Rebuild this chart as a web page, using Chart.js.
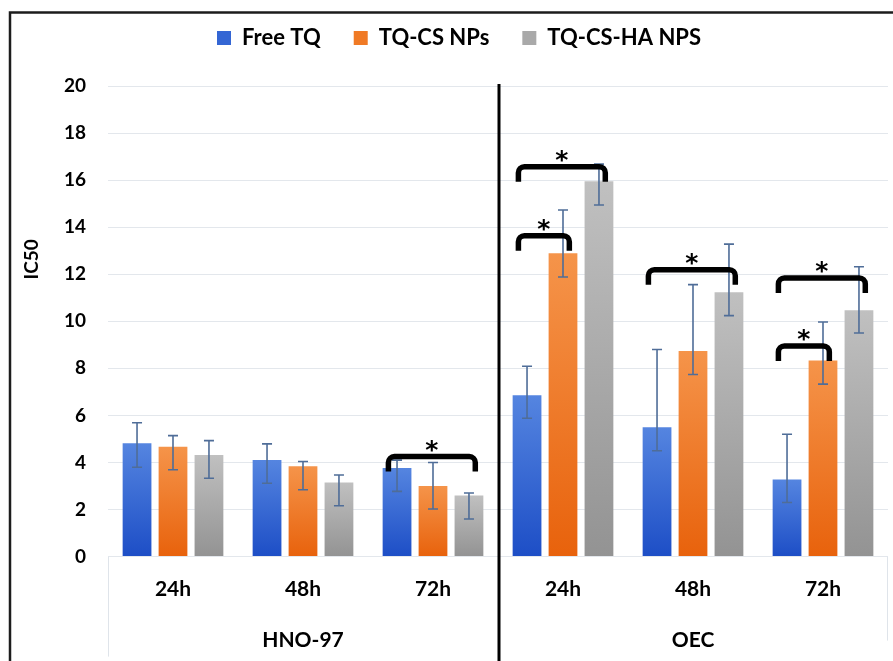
<!DOCTYPE html>
<html>
<head>
<meta charset="utf-8">
<script src="https://cdn.jsdelivr.net/npm/chart.js@4.4.0/dist/chart.umd.min.js"></script>
<style>
  html, body { margin: 0; padding: 0; background: #fff; }
  #wrap { width: 893px; height: 661px; }
</style>
</head>
<body>
<div id="wrap"><canvas id="myChart"></canvas></div>
<script>
// x categories (two cell lines, three time points each)
const categories = ['24h', '48h', '72h', '24h', '48h', '72h'];
const groups = ['HNO-97', 'OEC'];
const seriesNames = ['Free TQ', 'TQ-CS NPs', 'TQ-CS-HA NPS'];

// IC50 values
const freeTQ = [4.82, 4.11, 3.77, 6.86, 5.50, 3.28];
const tqCS   = [4.67, 3.84, 3.00, 12.89, 8.74, 8.33];
const tqCSHA = [4.32, 3.15, 2.60, 15.95, 11.23, 10.47];

// error bar reach above / below each bar
const freeTQErrUp   = [0.87, 0.68, 0.33, 1.23, 3.30, 1.92];
const freeTQErrDown = [1.02, 0.99, 1.00, 0.98, 1.00, 0.98];
const tqCSErrUp     = [0.47, 0.20, 1.00, 1.84, 2.82, 1.64];
const tqCSErrDown   = [0.98, 1.00, 0.98, 1.01, 1.00, 1.00];
const tqCSHAErrUp   = [0.61, 0.32, 0.10, 0.73, 2.05, 1.85];
const tqCSHAErrDown = [0.99, 0.99, 1.00, 1.01, 0.99, 0.97];

const yTicks = [0, 2, 4, 6, 8, 10, 12, 14, 16, 18, 20];

// significance brackets: category, first series, last series, height (IC50 units)
const sigCategory = [2, 3, 3, 4, 5, 5];
const sigFrom     = [0, 0, 0, 0, 0, 0];
const sigTo       = [2, 1, 2, 2, 2, 1];
const sigLevel    = [4.25, 13.64, 16.57, 12.19, 11.84, 8.95];

const FONT = 'Lato';
const COLORS = [
  { top: '#5585e0', bottom: '#1d4ec6', legend: '#3466d4' },
  { top: '#f5944a', bottom: '#e8620c', legend: '#f07a25' },
  { top: '#c0c0c0', bottom: '#939393', legend: '#a9a9a9' }
];

const barGradient = (c) => (ctx) => {
  if (ctx.type !== 'data') return c.legend;
  const chart = ctx.chart;
  if (!chart.chartArea) return c.legend;
  const y = chart.scales.y;
  const g = chart.ctx.createLinearGradient(0, y.getPixelForValue(ctx.raw), 0, y.getPixelForValue(0));
  g.addColorStop(0, c.top);
  g.addColorStop(1, c.bottom);
  return g;
};

const errUp = [freeTQErrUp, tqCSErrUp, tqCSHAErrUp];
const errDown = [freeTQErrDown, tqCSErrDown, tqCSHAErrDown];

// leave room between legend and plot
const legendGap = {
  id: 'legendGap',
  beforeInit(chart) {
    const fit = chart.legend.fit;
    chart.legend.fit = function () {
      fit.bind(chart.legend)();
      this.height += 27;
    };
  }
};

const extrasPlugin = {
  id: 'extras',
  afterDatasetsDraw(chart) {
    const ctx = chart.ctx;
    const y = chart.scales.y;
    const x = chart.scales.x;
    const area = chart.chartArea;
    ctx.save();

    // error bars
    ctx.strokeStyle = '#4f6d98';
    ctx.lineWidth = 1.6;
    chart.data.datasets.forEach((ds, di) => {
      const meta = chart.getDatasetMeta(di);
      meta.data.forEach((bar, i) => {
        const v = ds.data[i];
        const yt = y.getPixelForValue(v + errUp[di][i]);
        const yb = y.getPixelForValue(v - errDown[di][i]);
        ctx.beginPath();
        ctx.moveTo(bar.x, yt); ctx.lineTo(bar.x, yb);
        ctx.moveTo(bar.x - 5, yt); ctx.lineTo(bar.x + 5, yt);
        ctx.moveTo(bar.x - 5, yb); ctx.lineTo(bar.x + 5, yb);
        ctx.stroke();
      });
    });

    // significance brackets with asterisks
    ctx.strokeStyle = '#000';
    ctx.fillStyle = '#000';
    ctx.lineWidth = 5.5;
    ctx.lineCap = 'butt';
    ctx.lineJoin = 'round';
    ctx.font = 'bold 25px "DejaVu Sans"';
    ctx.textAlign = 'center';
    ctx.textBaseline = 'alphabetic';
    sigCategory.forEach((cat, k) => {
      const b1 = chart.getDatasetMeta(sigFrom[k]).data[cat];
      const b2 = chart.getDatasetMeta(sigTo[k]).data[cat];
      const x1 = b1.x - b1.width * 0.3;
      const x2 = b2.x + b2.width * 0.22;
      const yt = y.getPixelForValue(sigLevel[k]);
      const leg = 15;
      ctx.beginPath();
      ctx.moveTo(x1, yt + leg);
      ctx.arcTo(x1, yt, x1 + 7, yt, 6);
      ctx.arcTo(x2, yt, x2, yt + 7, 6);
      ctx.lineTo(x2, yt + leg);
      ctx.stroke();
      ctx.fillText('*', (x1 + x2) / 2, yt + 1);
    });

    // lines of the category box and divider
    ctx.lineJoin = 'miter';
    ctx.strokeStyle = '#dfe4ea';
    ctx.lineWidth = 1;
    ctx.beginPath();
    ctx.moveTo(area.left + 0.5, area.bottom); ctx.lineTo(area.left + 0.5, area.bottom + 100);
    ctx.moveTo(area.right - 0.5, area.bottom); ctx.lineTo(area.right - 0.5, area.bottom + 84);
    ctx.stroke();

    const xd = (x.getPixelForValue(2) + x.getPixelForValue(3)) / 2 + 1;
    ctx.strokeStyle = '#000';
    ctx.lineWidth = 3;
    ctx.beginPath();
    ctx.moveTo(xd, area.top - 2); ctx.lineTo(xd, chart.height);
    ctx.stroke();

    // outer frame (top and left edges visible)
    ctx.strokeStyle = '#1c1c1c';
    ctx.lineWidth = 2.5;
    ctx.beginPath();
    ctx.moveTo(10, chart.height); ctx.lineTo(10, 12.5); ctx.lineTo(chart.width, 12.5);
    ctx.stroke();

    // y axis title
    ctx.save();
    ctx.translate(32, (area.top + area.bottom) / 2 - 62);
    ctx.rotate(-Math.PI / 2);
    ctx.font = 'bold 19px ' + FONT;
    ctx.textBaseline = 'middle';
    ctx.fillText('IC50', 0, 0);
    ctx.restore();

    ctx.restore();
  }
};

const chartEl = document.getElementById('myChart');
new Chart(chartEl, {
  type: 'bar',
  data: {
    labels: categories,
    datasets: [
      { label: seriesNames[0], data: freeTQ, backgroundColor: barGradient(COLORS[0]) },
      { label: seriesNames[1], data: tqCS, backgroundColor: barGradient(COLORS[1]) },
      { label: seriesNames[2], data: tqCSHA, backgroundColor: barGradient(COLORS[2]) }
    ]
  },
  options: {
    responsive: true,
    maintainAspectRatio: false,
    animation: false,
    datasets: { bar: { categoryPercentage: 0.83, barPercentage: 0.8 } },
    layout: { padding: { left: 30, right: 5, top: -6, bottom: 2 } },
    plugins: {
      tooltip: { enabled: false },
      legend: {
        display: true,
        position: 'top',
        labels: {
          boxWidth: 14,
          boxHeight: 14,
          padding: 33,
          color: '#000',
          font: { family: FONT, size: 22, weight: 'bold' },
          generateLabels: () => seriesNames.map((n, i) => ({
            text: n, fillStyle: COLORS[i].legend, strokeStyle: COLORS[i].legend,
            lineWidth: 0, datasetIndex: i
          }))
        }
      }
    },
    scales: {
      x: {
        type: 'category',
        grid: { display: false, drawTicks: false },
        border: { display: false },
        ticks: { color: '#000', padding: 20, font: { family: FONT, size: 21, weight: 'bold' } }
      },
      x2: {
        type: 'category',
        position: 'bottom',
        labels: groups,
        offset: true,
        grid: { display: false, drawTicks: false },
        border: { display: false },
        ticks: { color: '#000', padding: 6, font: { family: FONT, size: 21, weight: 'bold' } }
      },
      y: {
        min: 0,
        max: 20,
        afterFit: (scale) => { scale.width = 78; },
        afterBuildTicks: (scale) => { scale.ticks = yTicks.map(v => ({ value: v })); },
        grid: { color: '#e3e7ec', lineWidth: 1, drawTicks: false },
        border: { display: false },
        ticks: { color: '#000', padding: 22, font: { family: FONT, size: 19, weight: 'bold' } }
      }
    }
  },
  plugins: [legendGap, extrasPlugin]
});
</script>
</body>
</html>
